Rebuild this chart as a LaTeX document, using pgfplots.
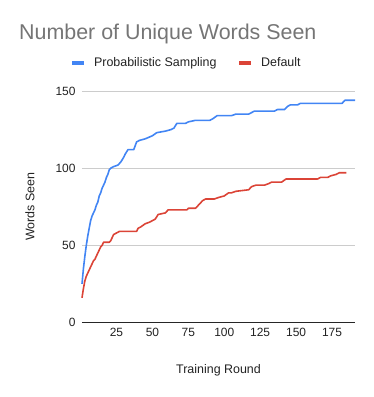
\documentclass[border=0pt]{standalone}
\usepackage{pgfplots}
\pgfplotsset{compat=1.18}
\usepackage{fontspec}
\setmainfont{Liberation Sans}
\definecolor{gblue}{HTML}{4285F4}
\definecolor{gred}{HTML}{DB4437}
\definecolor{gtitle}{HTML}{757575}
\definecolor{gtext}{HTML}{222222}
\definecolor{ggrid}{HTML}{CCCCCC}
\begin{document}
\begin{tikzpicture}
\useasboundingbox (-82bp,-74.5bp) rectangle (292bp,322.5bp);
\begin{axis}[
  scale only axis,
  width=273bp, height=231.5bp,
  xmin=1, xmax=191, ymin=0, ymax=150,
  xtick={25,50,75,100,125,150,175},
  ytick={50,100,150},
  extra y ticks={0},
  extra y tick style={grid style={draw=black!85, line width=1.2bp}},
  ymajorgrids,
  grid style={draw=ggrid, line width=0.8bp},
  axis line style={draw=none},
  major tick length=0pt,
  tick style={draw=none},
  /pgf/number format/assume math mode=true,
  tick label style={font=\fontsize{12}{14}\selectfont, text=gtext},
  yticklabel style={anchor=east, xshift=-3bp},
  xticklabel style={anchor=center, yshift=-10bp},
  xlabel={Training Round},
  ylabel={Words Seen},
  every axis x label/.style={at={(axis description cs:0.5,0)}, yshift=-47.5bp, anchor=center, font=\fontsize{12.5}{14}\selectfont, text=gtext},
  every axis y label/.style={at={(axis description cs:0,0.5)}, xshift=-52bp, rotate=90, anchor=center, font=\fontsize{12.5}{14}\selectfont, text=gtext},
  legend columns=2,
  legend style={at={(axis description cs:0.383,1.121)}, anchor=center, draw=none, fill=none,
    font=\fontsize{12.5}{14}\selectfont, text=gtext,
    /tikz/every even column/.append style={column sep=19bp}},
  legend image code/.code={\draw[#1, line width=3.5bp] (0bp,0bp) -- (12bp,0bp); \path (19bp,0bp);},
  clip=false,
]
\addplot[gblue, line width=1.6bp, line join=round] coordinates {
(1,25)(2,35)(3,43)(4,50)(5,56)(6,61)(7,66)(8,69)(9,71)(10,73)(11,76)(12,78)(13,82)(14,84)(15,87)(16,89)(17,91)(18,94)(19,96)(20,99)(21,100)(23,101)(26,102)(28,104)(30,107)(31,109)(33,112)(37,112)(39,117)(41,118)(45,119)(50,121)(53,123)(59,124)(63,125)(65,126)(67,129)(73,129)(75,130)(80,131)(90,131)(92,132)(95,134)(105,134)(108,135)(117,135)(119,136)(121,137)(135,137)(137,138)(142,138)(144,140)(146,141)(151,141)(153,142)(182,142)(184,144)(191,144)
};
\addlegendentry{Probabilistic Sampling}
\addplot[gred, line width=1.6bp, line join=round] coordinates {
(1,16)(2,22)(3,27)(4,30)(5,32)(6,34)(7,36)(8,38)(9,40)(10,41)(11,43)(12,45)(13,47)(14,49)(15,50)(16,52)(20,52)(21,53)(22,55)(23,57)(25,58)(27,59)(39,59)(40,61)(42,62)(45,64)(48,65)(52,67)(54,70)(59,71)(61,73)(74,73)(75,74)(80,74)(81,75)(83,77)(85,79)(87,80)(93,80)(96,81)(100,82)(103,84)(105,84)(108,85)(117,86)(119,88)(122,89)(128,89)(131,90)(133,91)(140,91)(143,93)(165,93)(167,94)(172,94)(174,95)(178,96)(180,97)(185,97)
};
\addlegendentry{Default}
\end{axis}
\node[anchor=base west, inner sep=0pt, text=gtitle, font=\fontsize{21.5}{24}\selectfont] at (-63bp,283.2bp) {Number of Unique Words Seen};
\end{tikzpicture}
\end{document}
